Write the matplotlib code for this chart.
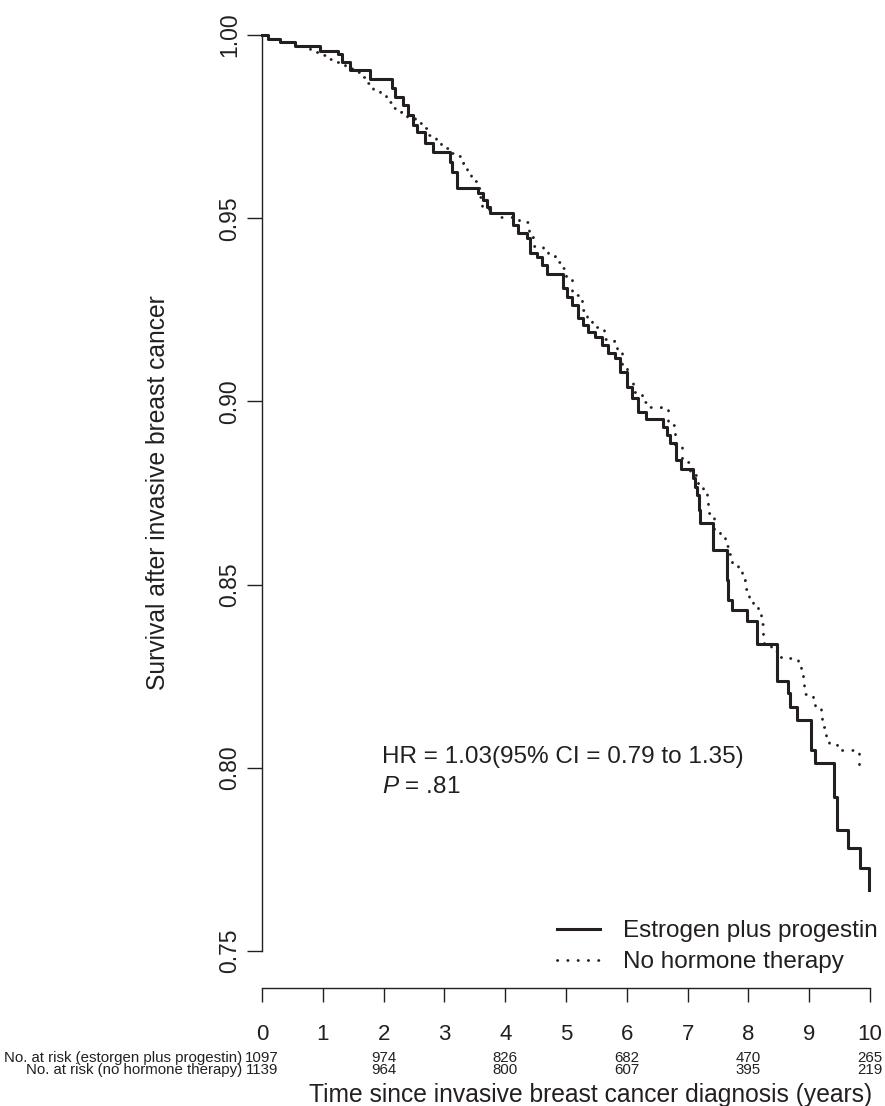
import matplotlib
matplotlib.use("Agg")
import matplotlib.pyplot as plt
from matplotlib.transforms import blended_transform_factory

plt.rcParams['font.family'] = ['Liberation Sans', 'DejaVu Sans']
plt.rcParams['mathtext.fontset'] = 'custom'
plt.rcParams['mathtext.rm'] = 'Liberation Sans'
plt.rcParams['mathtext.it'] = 'Liberation Sans:italic'

# Kaplan-Meier steps, estrogen plus progestin arm (years, survival)
ep_time = [0, 0.10, 0.30, 0.54, 0.95, 1.25, 1.32, 1.45, 1.78, 2.14, 2.19, 2.32, 2.40, 2.48,
           2.55, 2.68, 2.81, 3.09, 3.13, 3.21, 3.55, 3.64, 3.70, 3.75, 4.13, 4.21, 4.36, 4.41,
           4.52, 4.61, 4.69, 4.95, 5.02, 5.10, 5.20, 5.28, 5.36, 5.48, 5.59, 5.69, 5.81, 5.89,
           6.00, 6.09, 6.18, 6.32, 6.60, 6.66, 6.71, 6.81, 6.89, 7.09, 7.12, 7.16, 7.19, 7.20,
           7.42, 7.65, 7.66, 7.73, 7.98, 8.14, 8.47, 8.65, 8.68, 8.80, 9.03, 9.10, 9.41, 9.46,
           9.64, 9.84, 9.98]
ep_surv = [1.0, 0.9989, 0.9981, 0.9970, 0.9956, 0.9948, 0.9926, 0.9904, 0.9880, 0.9855, 0.9831,
           0.9809, 0.9782, 0.9754, 0.9735, 0.9705, 0.9681, 0.9653, 0.9626, 0.9582, 0.9569, 0.9550,
           0.9531, 0.9514, 0.9481, 0.9460, 0.9446, 0.9405, 0.9394, 0.9372, 0.9348, 0.9310, 0.9285,
           0.9263, 0.9228, 0.9209, 0.9189, 0.9176, 0.9154, 0.9132, 0.9118, 0.9080, 0.9039, 0.9009,
           0.8971, 0.8952, 0.8930, 0.8908, 0.8886, 0.8840, 0.8815, 0.8791, 0.8766, 0.8745, 0.8704,
           0.8668, 0.8594, 0.8513, 0.8458, 0.8431, 0.8401, 0.8338, 0.8237, 0.8204, 0.8166, 0.8130,
           0.8049, 0.8013, 0.7920, 0.7830, 0.7781, 0.7727, 0.7666]

# no hormone therapy arm
nh_time = [0, 0.10, 0.30, 0.54, 0.79, 0.92, 1.07, 1.23, 1.37, 1.48, 1.61, 1.73, 1.83, 1.94,
           2.04, 2.16, 2.29, 2.39, 2.52, 2.65, 2.73, 2.86, 2.94, 3.06, 3.22, 3.31, 3.37, 3.44,
           3.54, 3.59, 3.62, 3.73, 3.88, 4.23, 4.39, 4.46, 4.62, 4.70, 4.82, 4.92, 5.00, 5.10,
           5.26, 5.35, 5.43, 5.63, 5.79, 5.84, 5.92, 6.00, 6.10, 6.25, 6.37, 6.56, 6.68, 6.79,
           6.91, 7.04, 7.12, 7.17, 7.25, 7.32, 7.34, 7.43, 7.53, 7.62, 7.68, 7.73, 7.83, 7.90,
           7.94, 8.01, 8.08, 8.16, 8.21, 8.24, 8.26, 8.37, 8.47, 8.67, 8.82, 8.87, 8.90, 8.91,
           9.06, 9.10, 9.19, 9.21, 9.28, 9.33, 9.46, 9.82]
nh_surv = [1.0, 0.9989, 0.9981, 0.9970, 0.9954, 0.9945, 0.9934, 0.9926, 0.9913, 0.9899, 0.9885,
           0.9869, 0.9853, 0.9836, 0.9817, 0.9801, 0.9790, 0.9773, 0.9760, 0.9746, 0.9727, 0.9713,
           0.9692, 0.9678, 0.9670, 0.9651, 0.9623, 0.9602, 0.9582, 0.9558, 0.9531, 0.9514, 0.9503,
           0.9490, 0.9449, 0.9424, 0.9416, 0.9397, 0.9380, 0.9364, 0.9331, 0.9290, 0.9249, 0.9228,
           0.9203, 0.9170, 0.9165, 0.9138, 0.9099, 0.9058, 0.9026, 0.8998, 0.8985, 0.8979, 0.8936,
           0.8881, 0.8835, 0.8807, 0.8799, 0.8775, 0.8753, 0.8731, 0.8695, 0.8646, 0.8627, 0.8605,
           0.8584, 0.8556, 0.8537, 0.8513, 0.8488, 0.8463, 0.8439, 0.8422, 0.8392, 0.8365, 0.8332,
           0.8319, 0.8302, 0.8300, 0.8286, 0.8261, 0.8231, 0.8201, 0.8190, 0.8163, 0.8144, 0.8111,
           0.8087, 0.8065, 0.8049, 0.8008]

risk_years = [0, 2, 4, 6, 8, 10]
risk_ep = [1097, 974, 826, 682, 470, 265]
risk_nh = [1139, 964, 800, 607, 395, 219]

x_ticks = list(range(11))
y_ticks = [0.75, 0.80, 0.85, 0.90, 0.95, 1.00]
y_ticklabels = ['0.75', '0.80', '0.85', '0.90', '0.95', '1.00']

W, H = 885, 1106
ink = '#231f20'

fig = plt.figure(figsize=(W / 100, H / 100), dpi=100)
ax = fig.add_axes([262 / W, 1 - 951 / H, (870 - 262) / W, (951 - 35) / H])

ax.step(ep_time, ep_surv, where='post', color=ink, lw=2.2,
        label='Estrogen plus progestin', clip_on=False)
ax.step(nh_time, nh_surv, where='post', color=ink, lw=2.0, linestyle=(0, (0.1, 3.6)),
        dash_capstyle='round', label='No hormone therapy', clip_on=False)

ax.set_xlim(0, 10)
ax.set_ylim(0.75, 1.0)
for s in ['top', 'right']:
    ax.spines[s].set_visible(False)
for s in ['left', 'bottom']:
    ax.spines[s].set_linewidth(1.0)
    ax.spines[s].set_color(ink)
ax.spines['bottom'].set_position(('outward', 26.6))

ax.set_xticks(x_ticks)
ax.set_yticks(y_ticks, y_ticklabels)
ax.tick_params(axis='x', length=10, width=1, pad=15.8, labelsize=16, colors=ink)
ax.tick_params(axis='y', length=10.8, width=1, pad=4, labelsize=16.5, colors=ink,
               labelrotation=90)
for t in ax.yaxis.get_major_ticks():
    t.label1.set_verticalalignment('center')

ax.text(1.97, 0.8013, 'HR = 1.03(95% CI = 0.79 to 1.35)', fontsize=17.5, color=ink,
        va='baseline')
ax.text(1.97, 0.7932, '$P$ = .81', fontsize=17.5, color=ink, va='baseline')

ax.legend(loc='upper left', bbox_to_anchor=(557 / W, 1 - 920 / H),
          bbox_transform=fig.transFigure, frameon=False, fontsize=17.5,
          handlelength=1.77, handletextpad=0.95, borderpad=0, borderaxespad=0,
          labelspacing=0.37, labelcolor=ink)

# numbers at risk under the axis
trans = blended_transform_factory(ax.transData, fig.transFigure)
for x, a, b in zip(risk_years, risk_ep, risk_nh):
    ax.text(x, 1 - 1062 / H, str(a), transform=trans, ha='center', va='baseline',
            fontsize=10.8, color=ink)
    ax.text(x, 1 - 1074 / H, str(b), transform=trans, ha='center', va='baseline',
            fontsize=10.8, color=ink)
fig.text(242 / W, 1 - 1062 / H, 'No. at risk (estorgen plus progestin)', ha='right',
         va='baseline', fontsize=10.8, color=ink)
fig.text(242 / W, 1 - 1074 / H, 'No. at risk (no hormone therapy)', ha='right',
         va='baseline', fontsize=10.8, color=ink)

fig.text(158 / W, 1 - 493 / H, 'Survival after invasive breast cancer', rotation=90,
         ha='center', va='center', fontsize=17.7, color=ink)
fig.text(309 / W, 1 - 1102 / H, 'Time since invasive breast cancer diagnosis (years)',
         ha='left', va='baseline', fontsize=17.7, color=ink)

fig.savefig('out.png', dpi=100)
